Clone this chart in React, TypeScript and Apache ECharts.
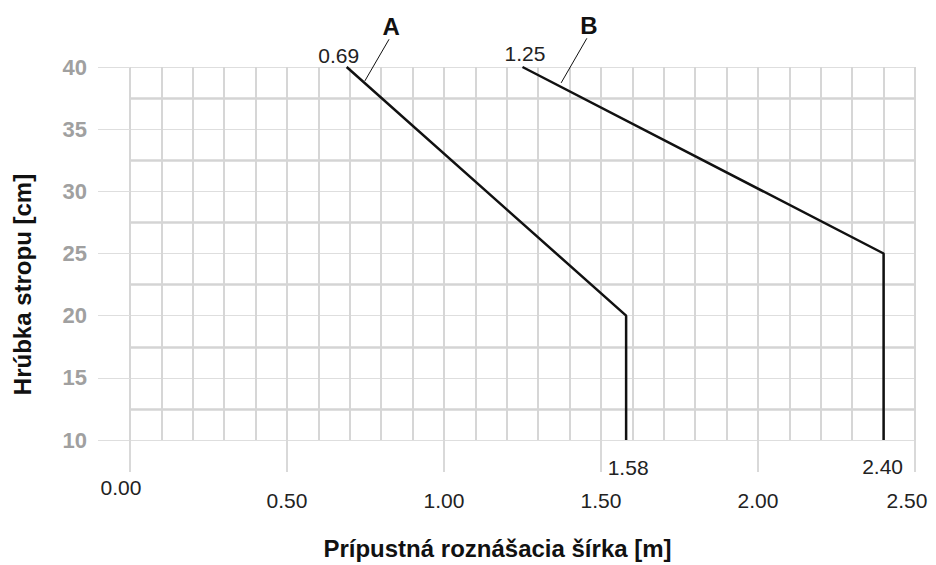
import React, { useEffect, useRef } from "react";
import * as echarts from "echarts";

const xTicks = [0, 0.5, 1, 1.5, 2, 2.5];
const yTicks = [10, 15, 20, 25, 30, 35, 40];
const seriesA: [number, number][] = [[0.69, 40], [1.58, 20], [1.58, 10]];
const seriesB: [number, number][] = [[1.25, 40], [2.4, 25], [2.4, 10]];
const leaderA: [number, number][] = [[0.748, 38.88], [0.825, 42.23]];
const leaderB: [number, number][] = [[1.373, 38.72], [1.455, 42.31]];
const names = ["A", "B"];
const xName = "Prípustná roznášacia šírka [m]";
const yName = "Hrúbka stropu [cm]";

const FONT = "'Liberation Sans', Arial, sans-serif";
const VFS = 21;

export default function App() {
  const ref = useRef<HTMLDivElement>(null);
  useEffect(() => {
    if (!ref.current) return;
    const chart = echarts.init(ref.current, undefined, { renderer: "svg" });
    const valLabel = (pos: string, offset: number[]) => ({
      show: true,
      position: pos,
      offset,
      formatter: (p: any) => Number(p.value[0]).toFixed(2),
      fontFamily: FONT,
      fontSize: VFS,
      color: "#222",
    });
    const labelsA = [valLabel("top", [-8, 3.5]), null, valLabel("bottom", [2, 11.5])];
    const labelsB = [valLabel("top", [2.5, 2]), null, valLabel("bottom", [-1, 10.5])];
    const mkData = (pts: [number, number][], labels: any[]) =>
      pts.map((p, i) => ({ value: p, label: labels[i] || { show: false } }));
    const mkLeader = (pts: [number, number][], name: string) =>
      pts.map((p, i) => ({
        value: p,
        label:
          i === pts.length - 1
            ? {
                show: true,
                position: "top",
                offset: [2, 4.5],
                formatter: name,
                fontFamily: FONT,
                fontWeight: "bold",
                fontSize: 24,
                color: "#111",
              }
            : { show: false },
      }));
    const xMin = xTicks[0];
    const xMax = xTicks[xTicks.length - 1];
    chart.setOption({
      animation: false,
      backgroundColor: "#fff",
      grid: { left: 130, right: 21, top: 67, bottom: 122 },
      xAxis: [
        {
          type: "value",
          min: xMin,
          max: xMax,
          interval: 0.5,
          name: xName,
          nameLocation: "middle",
          nameGap: 96,
          nameTextStyle: {
            fontFamily: FONT,
            fontWeight: "bold",
            fontSize: 24,
            color: "#111",
            padding: [0, 50, 0, 0],
          },
          axisLine: { show: false },
          axisTick: { show: true, length: 32, lineStyle: { color: "#d9d9d9", width: 2 } },
          minorTick: { show: false, splitNumber: 5 },
          splitLine: { show: true, lineStyle: { color: "#d6d6d6", width: 2 } },
          minorSplitLine: { show: true, lineStyle: { color: "#d6d6d6", width: 2 } },
          axisLabel: {
            margin: 49.5,
            fontFamily: FONT,
            fontSize: VFS,
            color: "#222",
            formatter: (v: number) => (v === xMin ? "" : v === xMax ? "{e|" + v.toFixed(2) + "}" : v.toFixed(2)),
            rich: { e: { fontFamily: FONT, fontSize: VFS, color: "#222", padding: [0, 16, 0, 0] } },
          },
        },
        {
          type: "value",
          min: xMin,
          max: xMax,
          interval: 0.5,
          position: "bottom",
          axisLine: { show: false },
          axisTick: { show: false },
          splitLine: { show: false },
          axisLabel: {
            margin: 37,
            fontFamily: FONT,
            fontSize: VFS,
            color: "#222",
            formatter: (v: number) => (v === xMin ? "{s|" + v.toFixed(2) + "}" : ""),
            rich: { s: { fontFamily: FONT, fontSize: VFS, color: "#222", padding: [0, 18, 0, 0] } },
          },
        },
      ],
      yAxis: {
        type: "value",
        min: yTicks[0],
        max: yTicks[yTicks.length - 1],
        interval: 5,
        name: yName,
        nameLocation: "middle",
        nameGap: 96,
        nameTextStyle: {
          fontFamily: FONT,
          fontWeight: "bold",
          fontSize: 24,
          color: "#111",
          padding: [0, 62, 0, 0],
        },
        axisLine: { show: false },
        axisTick: { show: true, length: 32, lineStyle: { color: "#dedede", width: 1 } },
        minorTick: { show: false, splitNumber: 2 },
        splitLine: { show: true, lineStyle: { color: "#dedede", width: 1 } },
        minorSplitLine: { show: true, lineStyle: { color: "#d4d4d4", width: 2.5 } },
        axisLabel: {
          margin: 43,
          fontFamily: FONT,
          fontWeight: "bold",
          fontSize: 22,
          color: "#a0a0a0",
        },
      },
      series: [
        {
          type: "line",
          data: mkData(seriesA, labelsA),
          symbol: "circle",
          symbolSize: 0,
          showSymbol: true,
          clip: false,
          lineStyle: { color: "#111", width: 2.5 },
          itemStyle: { color: "#111" },
          z: 5,
        },
        {
          type: "line",
          data: mkData(seriesB, labelsB),
          symbol: "circle",
          symbolSize: 0,
          showSymbol: true,
          clip: false,
          lineStyle: { color: "#111", width: 2.5 },
          itemStyle: { color: "#111" },
          z: 5,
        },
        {
          type: "line",
          data: mkLeader(leaderA, names[0]),
          symbol: "circle",
          symbolSize: 0,
          showSymbol: true,
          clip: false,
          lineStyle: { color: "#111", width: 1 },
          itemStyle: { color: "#111" },
          z: 6,
        },
        {
          type: "line",
          data: mkLeader(leaderB, names[1]),
          symbol: "circle",
          symbolSize: 0,
          showSymbol: true,
          clip: false,
          lineStyle: { color: "#111", width: 1 },
          itemStyle: { color: "#111" },
          z: 6,
        },
      ],
    });
    return () => chart.dispose();
  }, []);
  return (
    <div
      ref={ref}
      style={{ position: "fixed", left: 0, top: 0, width: 936, height: 565, background: "#fff" }}
    />
  );
}
